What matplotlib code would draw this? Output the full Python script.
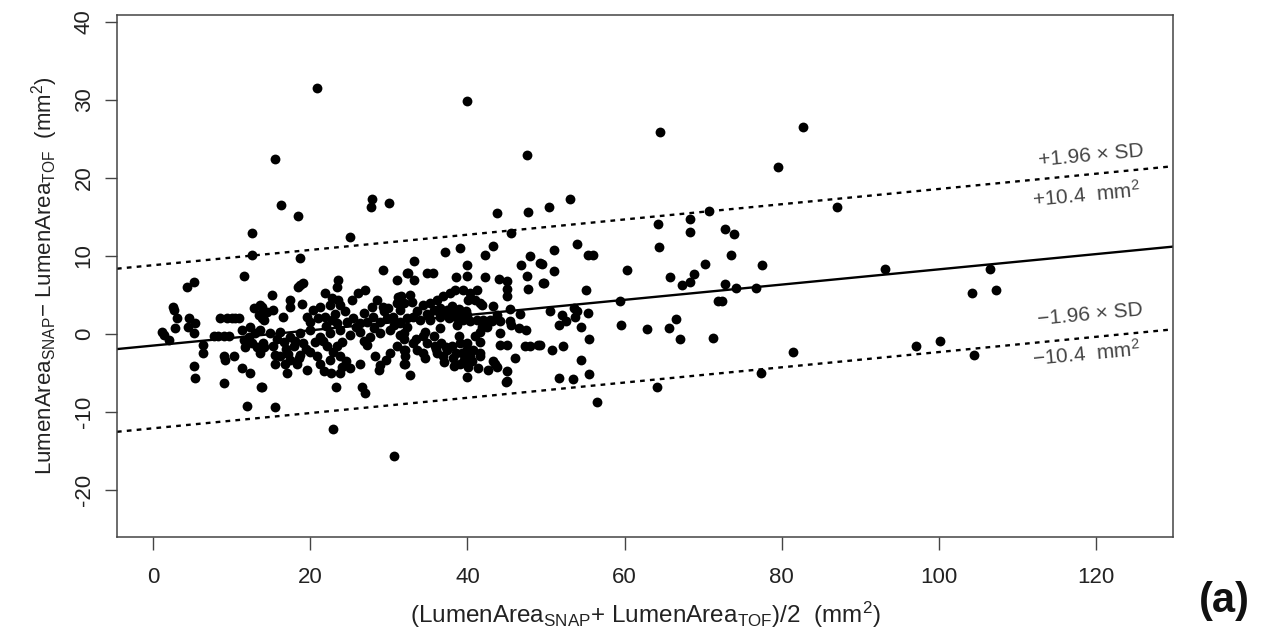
import matplotlib
matplotlib.use("Agg")
import matplotlib.pyplot as plt
import numpy as np

plt.rcParams['font.family'] = ['Liberation Sans', 'DejaVu Sans']
plt.rcParams['mathtext.fontset'] = 'custom'
plt.rcParams['mathtext.rm'] = 'Liberation Sans'
plt.rcParams['mathtext.it'] = 'Liberation Sans'

# ---- data: mean of the two measurements (x) and their difference (y) ----
outlier_x = [20.9, 40, 64.5, 82.7, 79.5, 15.5, 47.6, 16.3, 18.5, 27.9, 27.7, 30, 53.1, 50.4,
             43.8, 47.7, 12.6, 25, 45.5, 87, 70.8, 68.3, 68.3, 64.3, 64.4, 72.8, 73.9, 73.6, 12.6,
             30.7, 22.9, 12, 15.5, 56.5, 64.1, 77.4, 81.4, 97.1, 100.1, 104.5, 93.1, 106.5, 104.2,
             107.2, 77.5, 72.8, 74.2, 76.7, 71.9, 72.4, 71.2]
outlier_y = [31.5, 29.9, 25.9, 26.5, 21.4, 22.4, 22.9, 16.5, 15.1, 17.3, 16.3, 16.8, 17.3, 16.3,
             15.5, 15.6, 12.9, 12.4, 12.9, 16.3, 15.8, 14.7, 13.1, 14.1, 11.1, 13.5, 12.8, 10.1, 10.1,
             -15.6, -12.2, -9.2, -9.4, -8.7, -6.8, -5.0, -2.3, -1.6, -0.9, -2.7, 8.3, 8.3, 5.2,
             5.6, 8.8, 6.4, 5.9, 5.9, 4.2, 4.2, -0.5]

left_x = [1.1, 1.4, 2, 2.5, 2.6, 3, 2.8, 4.3, 5.2, 4.6, 4.5, 5.3, 5.2, 6.4, 6.4, 5.2, 5.3, 11.6,
          9, 13.7, 11.3, 12.3, 9, 9.2, 10.3, 7.7, 8.3, 9, 9.6, 8.5, 9.4, 10, 10.4, 10.9,
          11.3, 11.6, 11.7, 12.2, 12.6, 13, 13.2, 13.6, 14.1, 12.3, 12.8, 13.6, 13.5, 14.1]
left_y = [0.3, -0.1, -0.8, 3.5, 3.1, 2, 0.8, 6, 6.7, 2, 0.9, 1.4, 0.1, -1.4, -2.4, -4.1, -5.6, 7.4,
          -6.3, -6.8, -4.4, -5, -2.9, -3.3, -2.8, -0.3, -0.3, -0.3, -0.3, 2, 2, 2, 2, 2,
          0.5, -0.8, -1.7, -0.4, -1.2, 0.1, -1.7, -2.4, -1.7, 0.9, 3.3, 3.7, 2.4, 1.8]

mid_x = [18.7, 29.3, 32.3, 31, 18.7, 19.1, 18.5, 23.5, 23.4, 15.1, 17.4, 17.4, 21.9, 22.8, 23.5,
         23.8, 22.5, 25.3, 26.1, 27, 28.5, 27.9, 29.3, 29.9, 31, 31.2, 13.9, 14.5, 15.3, 16.5, 13.9,
         19.6, 20.4, 21.3, 20, 21, 21.9, 22.8, 23.4, 24.7, 25.5, 26.3, 27.2, 28, 28.9, 29.8, 30.5,
         31.4, 32.3, 13.6, 14.9, 16.2, 17.4, 18.7, 20, 21.3, 22.5, 23.8, 25.1, 26.3, 27.6, 28.9,
         30.2, 31.4, 14, 15.3, 16.6, 17.9, 19.1, 16.2, 17.4, 15.5, 18.7, 20, 20.8, 22.1, 23.4,
         21.3, 22.5, 23.8, 24.6, 21.7, 22.7, 23.8, 25.1, 26.3, 27.2, 28.3, 28.9, 28.7, 29.7, 30.2,
         31.9, 32.1, 31, 19.6, 18.3, 17, 16.8, 15.5, 13.8, 23.3, 26.6, 27]
mid_y = [9.7, 8.2, 7.8, 6.9, 6.3, 6.5, 6, 6.9, 6, 5, 4.4, 3.5, 5.3, 4.6, 4.4,
         3.7, 3.7, 4.4, 5.3, 5.6, 4.4, 3.5, 3.5, 3.3, 4, 4.7, 3.5, 2.8, 3.1, 2.2, 2,
         2.2, 3.1, 3.5, 1.5, 2, 2.2, 1.8, 1.4, 1.5, 2, 1.4, 1.5, 2.2, 1.5, 2, 2.2,
         1.5, 2, 0.5, 0.1, 0.3, -0.4, 0.1, 0.5, -0.4, 0.1, 0.5, -0.1, 0.3, -0.4, 0.1,
         0.5, -0.1, -1.2, -1.6, -1, -1.6, -1.2, -2.9, -3.3, -2.7, -2.7, -2.3, -2.9, -1.6, -1.6,
         -3.8, -3.3, -2.9, -3.5, -4.8, -5, -5, -4.4, -3.8, -1.4, -2.9, -4, -4.6, -3.3, -2.5,
         -2.1, -3.8, -1.6, -4.6, -3.8, -5, -3.8, -3.8, -6.8, -6.8, -6.8, -7.6]

# extra points in the densest overlapping blobs
dense_x = [15.8, 16.9, 18.1, 19.4, 17.2, 18.6, 21.6, 22.9, 24.1, 22.0, 23.2, 24.4, 25.8, 19.0,
           20.6, 26.9, 28.1, 29.4, 30.6, 35.1, 36.2, 37.1, 38.0, 38.9, 39.8, 36.0, 37.3, 38.5,
           39.6, 40.6, 37.0, 38.3, 40.0, 36.5, 38.7, 33.5, 42.5, 43.8, 24.0, 26.8]
dense_y = [-0.6, -2.0, -0.9, -2.0, -2.6, -3.1, -0.9, -2.3, -1.0, 1.0, 2.6, 2.9, 0.9, 3.8,
           -1.0, 2.7, 0.8, 2.9, 1.1, 2.3, 2.9, 2.5, 3.6, 3.2, 2.9, -2.0, -1.7, -2.5,
           -3.3, -3.5, -3.6, -4.1, -2.0, 0.8, 1.1, -0.6, 0.9, 2.4, -4.3, -0.9]

c40_x = [37.2, 39, 33.2, 42.2, 43.2, 40, 34.9, 35.6, 32.4, 33.2, 38.6, 40, 42.2, 44, 45, 48, 46.8,
         49.2, 47.6, 49.6, 47.7, 45, 45, 31.6, 31.9, 31.4, 32.7, 32.9, 34.4, 35.3, 36.1, 36.9,
         37.8, 38.4, 39.5, 40.3, 41.2, 41, 40.1, 41.8, 33.6, 34.8, 35.7, 36.5, 37.4, 38.2, 39.1,
         39.9, 34, 35.3, 36.5, 37.6, 38.6, 39.5, 40.3, 31.4, 32.3, 31.9, 33.1, 41.2, 41.8, 42.9,
         44.2, 31.9, 32.1, 32.1, 31.9, 32.7, 33.1, 33.6, 34.4, 34.6, 34.8, 34.4, 34.6, 35.7, 35.9,
         36.1, 36.7, 36.9, 37.4, 38, 38.2, 38.9, 39.1, 39.3, 39.1, 39.7, 39.9, 40.1, 40.3, 39.9,
         40.7, 41, 41.6, 41.6, 41.6, 41.4, 42.6, 43.3, 43.7, 45, 45, 44.2, 45, 45.6, 46.5, 47.5,
         46.1, 47.3, 48, 49, 44.2, 41.6, 43.3, 45.4, 46.7, 43.1, 45.4, 43.5, 44.9, 41.6, 42]
c40_y = [10.5, 11, 9.4, 10.1, 11.2, 8.8, 7.8, 7.8, 7.8, 6.9, 7.3, 7.4, 7.3, 7, 6.8, 10, 8.8,
         9.1, 7.4, 6.5, 5.7, 5.8, 4.8, 4.8, 3.9, 3.1, 5, 4.1, 3.7, 3.9, 4.4, 4.8,
         5.2, 5.6, 5.6, 5.2, 5.6, 4.4, 4.4, 3.7, 2.9, 2.6, 3.1, 3.3, 3.1, 2.9, 2.6,
         2.4, 1.8, 1.8, 2.2, 2, 2.2, 1.8, 1.6, 1.4, 0.9, 0.1, 2.2, 1.8, 0.9, 1.8,
         1.6, -0.6, -2.1, -2.9, -3.8, -5.3, -1.2, -2.1, -0.3, 0.3, -1.2, -2.5, -3.1, -0.3, -1.6,
         -2.5, -1.2, -2.9, -2.1, -1.6, -3.1, -0.3, -1.2, -2.5, -3.8, -2.5, -1.2, -4.2, -2.9, -5.5,
         -2.1, -0.3, -1, 0.3, -2.9, -4.4, -4.6, -3.5, -4.2, -4.8, -6.1, -1.4, -1.4, 1.2, 0.7, 0.5,
         -3.1, -1.6, -1.6, -1.4, 0.1, 3.9, 3.6, 3.2, 2.6, 1.6, 1.6, -3.8, -6.2, -2.5, 1.8]

c60_x = [51, 53.9, 55.4, 56, 49.5, 51, 49.7, 60.3, 65.8, 67.3, 68.3, 68.8, 70.2, 55.1, 59.4,
         50.5, 52, 53.5, 53.9, 53.7, 55.4, 51.6, 52.6, 54.5, 49.2, 50.7, 52.2, 55.5, 59.6, 62.8,
         65.7, 66.6, 67, 54.5, 51.6, 53.4, 55.5]
c60_y = [10.8, 11.5, 10.1, 10.1, 9, 8.1, 6.5, 8.2, 7.3, 6.2, 6.6, 7.7, 9, 5.6, 4.2,
         2.9, 2.4, 3.3, 2.9, 2.2, 2.7, 1.2, 1.6, 0.9, -1.4, -2.1, -1.5, -0.6, 1.2, 0.6,
         0.7, 1.9, -0.7, -3.4, -5.6, -5.8, -5.2]

# ---- Bland-Altman lines (regression of difference on mean) ----
bias_intercept = -1.5
bias_slope = 0.0977
upper_offset = 10.3
lower_offset = -10.6

x_ticks = [0, 20, 40, 60, 80, 100, 120]
y_ticks = [-20, -10, 0, 10, 20, 30, 40]

xs = np.array(outlier_x + left_x + mid_x + dense_x + c40_x + c60_x)
ys = np.array(outlier_y + left_y + mid_y + dense_y + c40_y + c60_y)

fig = plt.figure(figsize=(12.71, 6.39), dpi=100)
ax = fig.add_axes([0.092, 0.160, 0.831, 0.817])
ax.scatter(xs, ys, s=50, c='black', marker='o', linewidths=0, zorder=3)

xlim = (-4.6, 129.8)
xl = np.array(xlim)
ax.plot(xl, bias_intercept + bias_slope * xl, color='black', lw=1.7, zorder=2)
ax.plot(xl, bias_intercept + upper_offset + bias_slope * xl, color='black', lw=1.7,
        linestyle=(0, (2, 2.2)), zorder=2)
ax.plot(xl, bias_intercept + lower_offset + bias_slope * xl, color='black', lw=1.7,
        linestyle=(0, (2, 2.2)), zorder=2)

ax.set_xlim(*xlim)
ax.set_ylim(-26.0, 40.9)
ax.set_xticks(x_ticks)
ax.set_yticks(y_ticks)
ax.set_xticklabels([str(t) for t in x_ticks], fontsize=16, color='#222222')
ax.set_yticklabels([str(t) for t in y_ticks], fontsize=16, color='#222222',
                   rotation=90, va='center')
ax.tick_params(axis='both', length=9, width=1.0, color='#444444')
ax.tick_params(axis='x', pad=13)
ax.tick_params(axis='y', pad=7)
for sp in ax.spines.values():
    sp.set_linewidth(1.1)
    sp.set_color('#444444')

ax.set_xlabel(r'(LumenArea$_{\mathrm{SNAP}}$+ LumenArea$_{\mathrm{TOF}}$)/2  (mm$^2$)',
              fontsize=17.5, color='#222222', labelpad=8)
ax.set_ylabel(r'LumenArea$_{\mathrm{SNAP}}$$-$ LumenArea$_{\mathrm{TOF}}$  (mm$^2$)',
              fontsize=16, color='#222222', labelpad=10)

ang = 5.3
tc = '#444444'
ax.text(119.3, 22.9, '+1.96 × SD', fontsize=15, color=tc, rotation=ang,
        ha='center', va='center')
ax.text(118.8, 17.8, '+10.4  mm$^2$', fontsize=15, color=tc, rotation=ang,
        ha='center', va='center')
ax.text(119.3, 2.4, '−1.96 × SD', fontsize=15, color=tc, rotation=ang,
        ha='center', va='center')
ax.text(118.8, -2.6, '−10.4  mm$^2$', fontsize=15, color=tc, rotation=ang,
        ha='center', va='center')

fig.text(0.9635, 0.06, '(a)', fontsize=30, fontweight='bold', ha='center', va='center',
         color='#111111')

fig.savefig('out.png', dpi=100, facecolor='white')
